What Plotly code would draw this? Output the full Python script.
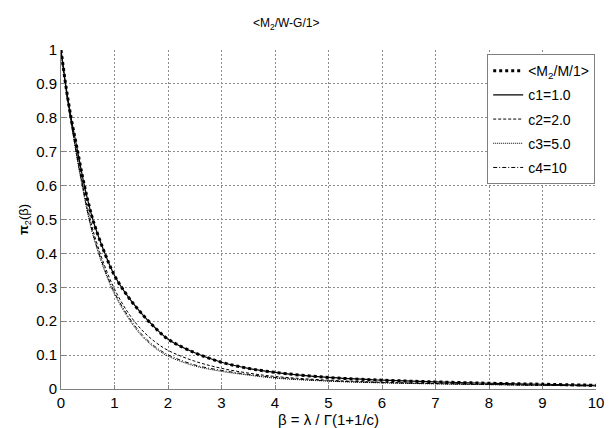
import plotly.graph_objects as go

beta = [0, 0.1, 0.2, 0.3, 0.4, 0.5, 0.6, 0.8, 1.0, 1.25, 1.5, 1.75, 2.0,
        2.5, 3.0, 3.5, 4.0, 5, 6, 7, 8, 9, 10]

m2m1 = [1.0, 0.885, 0.79, 0.71, 0.628, 0.557, 0.497, 0.408, 0.335, 0.273,
        0.224, 0.182, 0.147, 0.107, 0.079, 0.061, 0.049, 0.034, 0.026, 0.021,
        0.017, 0.014, 0.011]
c1 = list(m2m1)
c2 = [1.0, 0.88, 0.78, 0.69, 0.607, 0.532, 0.467, 0.37, 0.295, 0.226,
      0.176, 0.14, 0.114, 0.082, 0.061, 0.047, 0.037, 0.026, 0.02, 0.016,
      0.014, 0.011, 0.01]
c3 = [1.0, 0.875, 0.775, 0.68, 0.595, 0.517, 0.452, 0.355, 0.28, 0.211,
      0.158, 0.122, 0.097, 0.068, 0.052, 0.041, 0.032, 0.023, 0.018, 0.015,
      0.013, 0.011, 0.009]
c4 = [1.0, 0.877, 0.778, 0.684, 0.6, 0.522, 0.457, 0.36, 0.285, 0.216,
      0.163, 0.126, 0.101, 0.071, 0.055, 0.043, 0.034, 0.024, 0.019, 0.016,
      0.013, 0.011, 0.009]

x_ticks = [0, 1, 2, 3, 4, 5, 6, 7, 8, 9, 10]
y_ticks = [0, 0.1, 0.2, 0.3, 0.4, 0.5, 0.6, 0.7, 0.8, 0.9, 1]
y_ticklabels = ["0", "0.1", "0.2", "0.3", "0.4", "0.5", "0.6", "0.7", "0.8", "0.9", "1"]

series = [
    ("&lt;M<sub>2</sub>/M/1&gt;", m2m1, dict(color="black", width=3, dash="dot")),
    ("c1=1.0", c1, dict(color="black", width=1.2, dash="solid")),
    ("c2=2.0", c2, dict(color="black", width=1, dash="3px,2px")),
    ("c3=5.0", c3, dict(color="black", width=1, dash="1px,1px")),
    ("c4=10", c4, dict(color="black", width=1, dash="4px,2px,1px,2px")),
]

fig = go.Figure()
for i, (name, ys, line) in enumerate(series):
    fig.add_trace(go.Scatter(x=beta, y=ys, mode="lines", name=name,
                             legendgroup=f"g{i}",
                             line=dict(shape="spline", smoothing=1.0, **line)))

font = "Arial, Liberation Sans, sans-serif"
grid = "#8c8c8c"
axis_col = "#808080"
fig.update_layout(
    width=609, height=428,
    margin=dict(l=61, r=5, t=50, b=39),
    paper_bgcolor="white", plot_bgcolor="white",
    font=dict(family=font, color="black", size=15),
    title=dict(text="&lt;M<sub>2</sub>/W-G/1&gt;", x=0.47, xanchor="center",
               xref="container", y=0.946, yanchor="middle",
               font=dict(size=12, family=font)),
    showlegend=True,
    legend=dict(x=0.9985, xanchor="right", y=0.988, yanchor="top",
                bgcolor="white", bordercolor=axis_col, borderwidth=1,
                font=dict(size=14, family=font), tracegroupgap=3,
                itemwidth=30),
)
fig.update_xaxes(range=[0, 10], tickvals=x_ticks, ticktext=[str(t) for t in x_ticks],
                 showgrid=True, gridcolor=grid, griddash="2px,2px", gridwidth=1,
                 showline=True, linecolor=axis_col, linewidth=1,
                 ticks="inside", ticklen=4, tickcolor=axis_col,
                 zeroline=False, mirror=False, ticklabeloverflow="allow",
                 title=dict(text="β = λ / Γ(1+1/c)", standoff=1, font=dict(size=15)),
                 tickfont=dict(size=15))
fig.update_yaxes(range=[0, 1], tickvals=y_ticks, ticktext=y_ticklabels,
                 showgrid=True, gridcolor=grid, griddash="2px,2px", gridwidth=1,
                 showline=True, linecolor=axis_col, linewidth=1,
                 ticks="inside", ticklen=4, tickcolor=axis_col,
                 zeroline=False, mirror=False,
                 title=dict(text="<b>π</b><sub>2</sub>(β)", standoff=4, font=dict(size=13)),
                 tickfont=dict(size=15))

fig.write_html("out.html", config={"displayModeBar": False},
               post_script="document.body.style.margin='0';")
